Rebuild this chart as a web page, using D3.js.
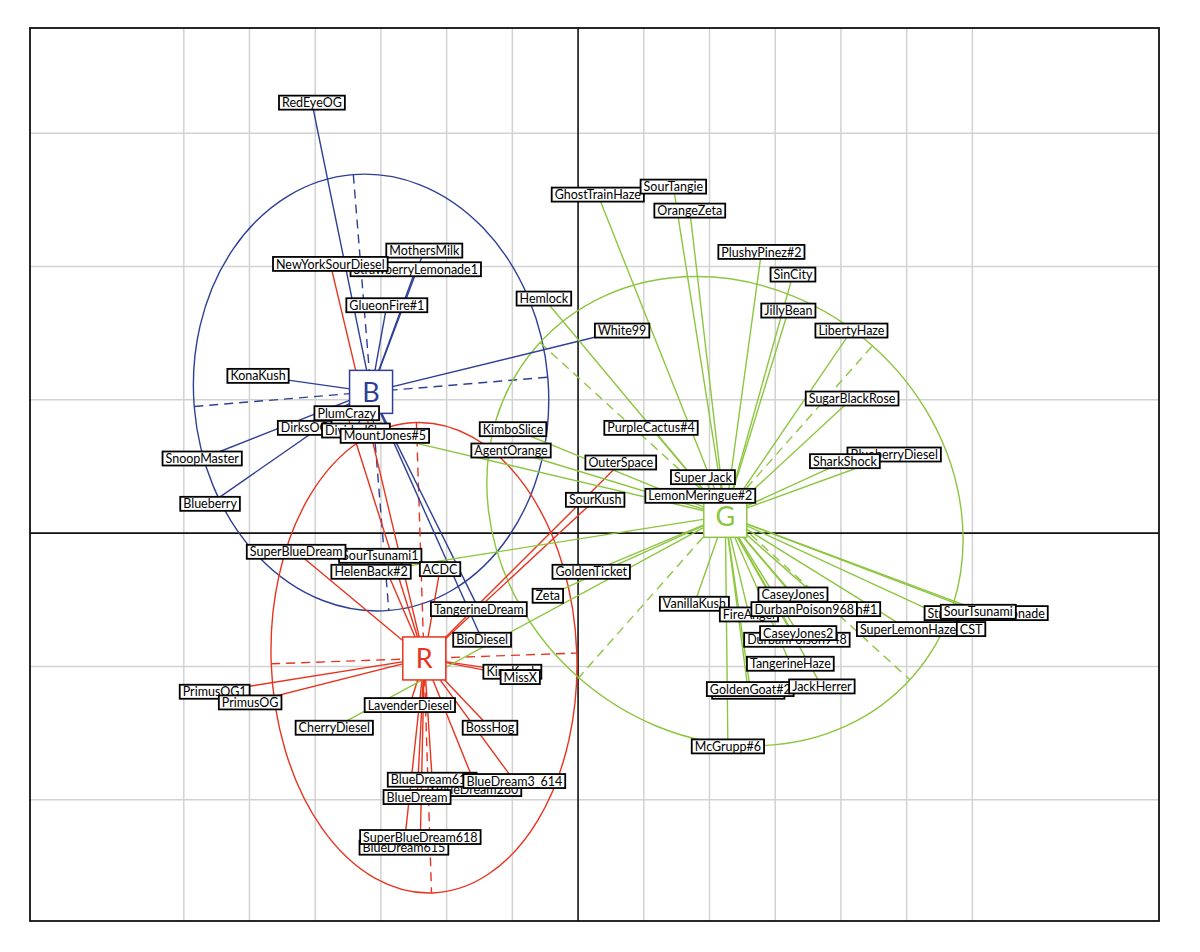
<!DOCTYPE html>
<html>
<head>
<meta charset="utf-8">
<script src="https://cdn.jsdelivr.net/npm/d3@7"></script>
<style>
  body { margin: 0; background: #fff; }
  text { font-family: Lato, "Liberation Sans", Arial, sans-serif; }
</style>
</head>
<body>
<svg id="chart" width="1200" height="952"></svg>
<script>
// grid positions (data units)
const xTicks = [-6, -5, -4, -3, -2, -1, 1, 2, 3, 4, 5, 6];
const yTicks = [-2, -1, 1, 2, 3];

const clusterNames = ["B", "R", "G"];
const clusterColors = ["#2d3f96", "#e8341f", "#8cc63f"];
const clusterCenters = [[-3.15, 1.06], [-2.34, -0.94], [2.24, 0.13]];

// ellipse axes: [major end 1, major end 2, minor end 1, minor end 2]
const blueEllipse = [[-3.42, 2.69], [-2.88, -0.58], [-5.84, 0.95], [-0.46, 1.17]];
const redEllipse = [[-2.46, 0.83], [-2.23, -2.70], [-4.67, -0.98], [-0.02, -0.90]];
const greenEllipse = [[-0.58, 1.43], [5.05, -1.10], [4.47, 1.40], [0.00, -1.09]];

// strains: [name, x, y]
const blueStrains = [
  ["RedEyeOG", -4.05, 3.23],
  ["StrawberryLemonade1", -2.47, 1.98],
  ["MothersMilk", -2.34, 2.12],
  ["GlueonFire#1", -2.91, 1.71],
  ["White99", 0.67, 1.52],
  ["KonaKush", -4.87, 1.18],
  ["DirksOG", -4.16, 0.79],
  ["DividedSky", -3.38, 0.77],
  ["SnoopMaster", -5.72, 0.56],
  ["Blueberry", -5.60, 0.22],
  ["TangerineDream", -1.51, -0.57],
  ["BioDiesel", -1.46, -0.80]
];

const redStrains = [
  ["NewYorkSourDiesel", -3.77, 2.02],
  ["PlumCrazy", -3.52, 0.90],
  ["SourTsunami1", -3.01, -0.17],
  ["SuperBlueDream", -4.29, -0.14],
  ["ACDC", -2.10, -0.27],
  ["OuterSpace", 0.65, 0.53],
  ["SourKush", 0.26, 0.25],
  ["KingKush", -1.00, -1.04],
  ["MissX", -0.88, -1.08],
  ["PrimusOG1", -5.53, -1.19],
  ["PrimusOG", -4.99, -1.27],
  ["LavenderDiesel", -2.56, -1.29],
  ["BossHog", -1.34, -1.46],
  ["BlueDream280", -1.54, -1.92],
  ["BlueDream616", -2.22, -1.85],
  ["BlueDream3_614", -0.97, -1.86],
  ["BlueDream", -2.45, -1.98],
  ["BlueDream615", -2.65, -2.36],
  ["SuperBlueDream618", -2.40, -2.28]
];

const greenStrains = [
  ["Hemlock", -0.52, 1.76],
  ["GhostTrainHaze", 0.30, 2.54],
  ["SourTangie", 1.45, 2.60],
  ["OrangeZeta", 1.70, 2.42],
  ["PlushyPinez#2", 2.79, 2.11],
  ["SinCity", 3.27, 1.94],
  ["JillyBean", 3.20, 1.67],
  ["LibertyHaze", 4.16, 1.52],
  ["SugarBlackRose", 4.17, 1.01],
  ["BlueberryDiesel", 4.81, 0.59],
  ["SharkShock", 4.06, 0.54],
  ["PurpleCactus#4", 1.11, 0.79],
  ["KimboSlice", -0.99, 0.78],
  ["AgentOrange", -1.02, 0.62],
  ["MountJones#5", -2.94, 0.73],
  ["HelenBack#2", -3.15, -0.29],
  ["GoldenTicket", 0.20, -0.29],
  ["Zeta", -0.46, -0.47],
  ["CherryDiesel", -3.71, -1.46],
  ["VanillaKush", 1.77, -0.53],
  ["FireAngel", 2.60, -0.61],
  ["DurbanPoison#1", 3.85, -0.57],
  ["CaseyJones", 3.27, -0.46],
  ["DurbanPoison968", 3.44, -0.57],
  ["DurbanPoison948", 3.33, -0.80],
  ["CaseyJones2", 3.35, -0.75],
  ["TangerineHaze", 3.23, -0.98],
  ["GoldenGoat", 2.59, -1.19],
  ["GoldenGoat#2", 2.62, -1.17],
  ["JackHerrer", 3.71, -1.15],
  ["McGrupp#6", 2.28, -1.60],
  ["SuperLemonHaze", 5.02, -0.72],
  ["CST", 5.98, -0.72],
  ["StrawberryLemonade", 6.21, -0.60],
  ["SourTsunami", 6.09, -0.59],
  ["Super Jack", 1.90, 0.42],
  ["LemonMeringue#2", 1.86, 0.28]
];

const ellipses = [blueEllipse, redEllipse, greenEllipse];
const strains = [blueStrains, redStrains, greenStrains];

const svg = d3.select("#chart");
const plotLeft = 30, plotRight = 1159, plotTop = 28, plotBottom = 921;

const x = d3.scaleLinear().domain([-8.34, 8.84]).range([plotLeft, plotRight]);
const y = d3.scaleLinear().domain([-2.91, 3.79]).range([plotBottom, plotTop]);

// grid
svg.append("g").selectAll("line").data(xTicks).join("line")
  .attr("x1", d => x(d)).attr("x2", d => x(d))
  .attr("y1", plotTop).attr("y2", plotBottom)
  .attr("stroke", "#d2d2d2").attr("stroke-width", 1.5);
svg.append("g").selectAll("line").data(yTicks).join("line")
  .attr("y1", d => y(d)).attr("y2", d => y(d))
  .attr("x1", plotLeft).attr("x2", plotRight)
  .attr("stroke", "#d2d2d2").attr("stroke-width", 1.5);

// zero axes
svg.append("line").attr("x1", x(0)).attr("x2", x(0)).attr("y1", plotTop).attr("y2", plotBottom)
  .attr("stroke", "#111").attr("stroke-width", 1.6);
svg.append("line").attr("x1", plotLeft).attr("x2", plotRight).attr("y1", y(0)).attr("y2", y(0))
  .attr("stroke", "#111").attr("stroke-width", 1.6);

svg.append("rect").attr("x", plotLeft).attr("y", plotTop)
  .attr("width", plotRight - plotLeft).attr("height", plotBottom - plotTop)
  .attr("fill", "none").attr("stroke", "#111").attr("stroke-width", 1.8);

// ellipses with their axes
ellipses.forEach((e, i) => {
  const p = e.map(d => [x(d[0]), y(d[1])]);
  const cx = (p[0][0] + p[1][0]) / 2, cy = (p[0][1] + p[1][1]) / 2;
  const ry = Math.hypot(p[1][0] - p[0][0], p[1][1] - p[0][1]) / 2;
  const rx = Math.hypot(p[3][0] - p[2][0], p[3][1] - p[2][1]) / 2;
  const ang = Math.atan2(p[3][1] - p[2][1], p[3][0] - p[2][0]) * 180 / Math.PI;

  svg.append("ellipse")
    .attr("cx", cx).attr("cy", cy).attr("rx", rx).attr("ry", ry)
    .attr("transform", "rotate(" + ang + "," + cx + "," + cy + ")")
    .attr("fill", "none").attr("stroke", clusterColors[i]).attr("stroke-width", 1.4);

  [[p[0], p[1]], [p[2], p[3]]].forEach(seg => {
    svg.append("line")
      .attr("x1", seg[0][0]).attr("y1", seg[0][1])
      .attr("x2", seg[1][0]).attr("y2", seg[1][1])
      .attr("stroke", clusterColors[i]).attr("stroke-width", 1.4)
      .attr("stroke-dasharray", "9,6");
  });
});

// lines from cluster centres to strains
strains.forEach((list, i) => {
  const c = clusterCenters[i];
  svg.append("g").selectAll("line").data(list).join("line")
    .attr("x1", x(c[0])).attr("y1", y(c[1]))
    .attr("x2", d => x(d[1])).attr("y2", d => y(d[2]))
    .attr("stroke", clusterColors[i]).attr("stroke-width", 1.4);
});

// centre squares
const sq = 43;
clusterCenters.forEach((c, i) => {
  const g = svg.append("g").attr("transform", "translate(" + x(c[0]) + "," + y(c[1]) + ")");
  g.append("rect").attr("x", -sq / 2).attr("y", -sq / 2).attr("width", sq).attr("height", sq)
    .attr("fill", "#fff").attr("stroke", clusterColors[i]).attr("stroke-width", 1.5);
  g.append("text").attr("text-anchor", "middle").attr("dy", "0.36em")
    .attr("font-size", 27).attr("fill", clusterColors[i]).text(clusterNames[i]);
});

// labels
function addLabels(list) {
  list.forEach(d => {
    const g = svg.append("g").attr("transform", "translate(" + x(d[1]) + "," + y(d[2]) + ")");
    const r = g.append("rect");
    const t = g.append("text").attr("text-anchor", "middle").attr("dy", "0.37em")
      .attr("font-size", 12.5).attr("fill", "#000").text(d[0]);
    const w = t.node().getComputedTextLength() + 6;
    r.attr("x", -w / 2).attr("y", -7).attr("width", w).attr("height", 14)
      .attr("fill", "#fff").attr("stroke", "#000").attr("stroke-width", 1.8);
  });
}
strains.forEach(addLabels);
</script>
</body>
</html>
